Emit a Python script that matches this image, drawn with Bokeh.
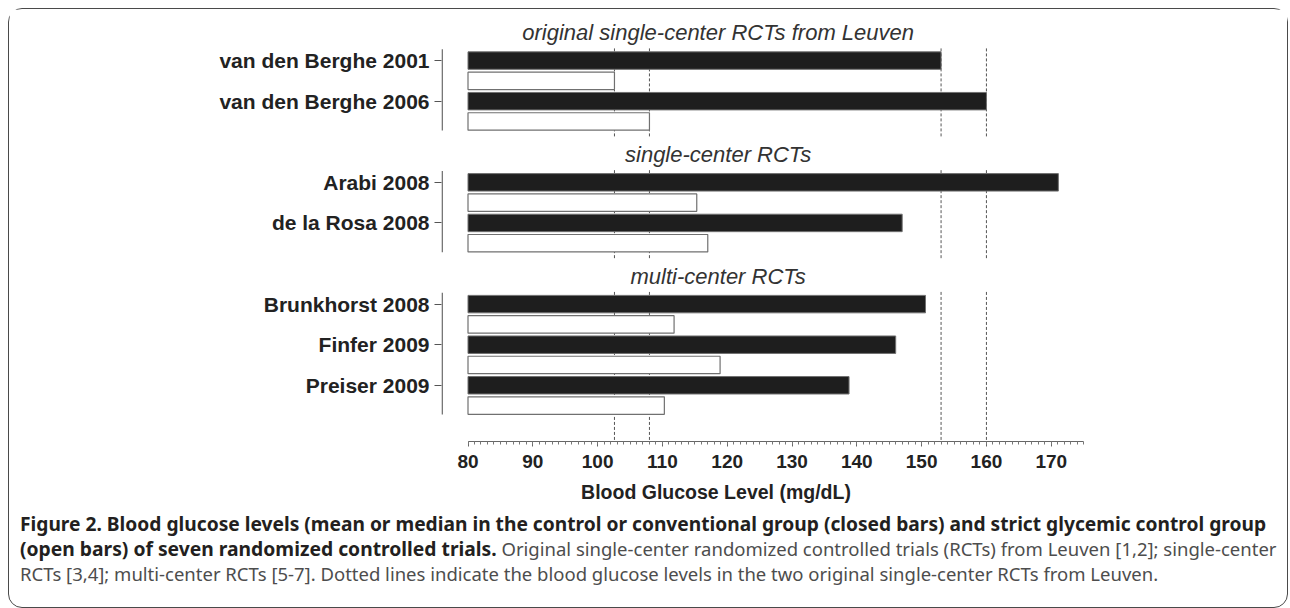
from bokeh.plotting import figure
from bokeh.layouts import column
from bokeh.models import Range1d, FixedTicker, SingleIntervalTicker, ColumnDataSource, Div
from bokeh.core.properties import value
from bokeh.embed import file_html
from bokeh.resources import INLINE

# ---- data ----
trials = ["van den Berghe 2001", "van den Berghe 2006", "Arabi 2008", "de la Rosa 2008",
          "Brunkhorst 2008", "Finfer 2009", "Preiser 2009"]
control = [153.0, 160.0, 171.1, 147.0, 150.6, 146.0, 138.8]      # closed bars
strict = [102.6, 108.0, 115.3, 117.0, 111.8, 118.9, 110.3]       # open bars
group_names = ["original single-center RCTs from Leuven", "single-center RCTs", "multi-center RCTs"]
group_members = [[0, 1], [2, 3], [4, 5, 6]]
leuven = [0, 1]
x_axis_start, x_axis_end, x_tick_step = 80, 175, 10
x_title = "Blood Glucose Level (mg/dL)"
caption_bold_1 = ("Figure 2. Blood glucose levels (mean or median in the control or conventional group "
                  "(closed bars) and strict glycemic control group")
caption_bold_2 = "(open bars) of seven randomized controlled trials."
caption_reg_2 = ("Original single-center randomized controlled trials (RCTs) from Leuven [1,2]; "
                 "single-center")
caption_reg_3 = ("RCTs [3,4]; multi-center RCTs [5-7]. Dotted lines indicate the blood glucose levels "
                 "in the two original single-center RCTs from Leuven.")

# ---- row slots (1 slot = one bar row) ----
slot = []
pos = 0
for g in group_members:
    for i in g:
        slot.append(pos)
        pos += 2
    pos += 2
y_black = slot
y_white = [s + 1 for s in slot]

W = 1278
CHART_FONT = "Liberation Sans"
Y_BOTTOM, Y_TOP = 18.77, -1.975

p = figure(width=W, height=470, output_backend="svg", toolbar_location=None,
           x_range=Range1d(75.91, 176.06), y_range=Range1d(Y_BOTTOM, Y_TOP),
           min_border_left=432, min_border_right=197, min_border_top=11, min_border_bottom=38)
p.outline_line_color = None
p.xgrid.visible = False
p.ygrid.visible = False

# dotted reference lines (Leuven values), drawn per group
ref_vals = [strict[i] for i in leuven] + [control[i] for i in leuven]
dx, dy0, dy1 = [], [], []
for gi, g in enumerate(group_members):
    top = slot[g[0]] - 0.6
    bot = Y_BOTTOM if gi == len(group_members) - 1 else slot[g[-1]] + 1.8
    for v in ref_vals:
        dx.append(v); dy0.append(top); dy1.append(bot)
p.segment(x0=dx, x1=dx, y0=dy0, y1=dy1, line_color="#555555", line_width=1, line_dash="3 2")

# y axis line segments per group
seg_y0 = [slot[g[0]] - 0.56 for g in group_members]
seg_y1 = [slot[g[-1]] + 1.44 for g in group_members]
xa = p.x_range.start + 0.1
p.segment(x0=[xa] * 3, x1=[xa] * 3, y0=seg_y0, y1=seg_y1, line_color="#555555", line_width=1.3)

base = x_axis_start
src_b = ColumnDataSource(dict(y=y_black, right=control))
src_w = ColumnDataSource(dict(y=y_white, right=strict))
p.hbar(y="y", left=base, right="right", height=0.86, source=src_b,
       fill_color="#1e1e1e", line_color="#707070", line_width=1)
p.hbar(y="y", left=base, right="right", height=0.86, source=src_w,
       fill_color="white", line_color="#707070", line_width=1.2)

# group headers
hdr_y = [slot[g[0]] - 1.38 for g in group_members]
p.text(x=[118.6] * 3, y=hdr_y, text=group_names, text_font=value(CHART_FONT),
       text_font_style="italic", text_font_size="22px", text_color="#333333",
       text_align="center", text_baseline="middle")

# x axis
xax = p.xaxis[0]
xax.ticker = SingleIntervalTicker(interval=x_tick_step, num_minor_ticks=10)
xax.bounds = (x_axis_start, x_axis_end)
xax.axis_line_color = "#666666"
xax.major_tick_line_color = "#666666"
xax.minor_tick_line_color = "#777777"
xax.major_tick_out = 5
xax.major_tick_in = 0
xax.minor_tick_out = 3
xax.minor_tick_in = 0
xax.major_label_text_font = CHART_FONT
xax.major_label_text_font_style = "bold"
xax.major_label_text_font_size = "19px"
xax.major_label_text_color = "#222222"
xax.major_label_standoff = 8

# y axis
yax = p.yaxis[0]
yax.ticker = FixedTicker(ticks=y_black)
yax.major_label_overrides = {y: t for y, t in zip(y_black, trials)}
yax.axis_line_color = None
yax.minor_tick_line_color = None
yax.major_tick_line_color = "#555555"
yax.major_tick_out = 7
yax.major_tick_in = 0
yax.major_label_standoff = 5
yax.major_label_text_font = CHART_FONT
yax.major_label_text_font_style = "bold"
yax.major_label_text_font_size = "21px"
yax.major_label_text_color = "#222222"

# ---- axis title + caption (HTML text) ----
title_center = 707
html = (
    f'<div style="width:{2 * title_center}px;text-align:center;font-family:\'{CHART_FONT}\';'
    f'font-weight:bold;font-size:19.5px;line-height:26px;color:#222222;white-space:nowrap;">{x_title}</div>'
    '<div style="margin-top:6px;padding-left:11px;font-family:\'Noto Sans\';font-size:18.5px;'
    'line-height:25px;white-space:nowrap;color:#4d4d4d;">'
    f'<span style="font-weight:bold;font-size:19.2px;color:#231f20;">{caption_bold_1}</span><br>'
    f'<span style="font-weight:bold;font-size:19.3px;color:#231f20;">{caption_bold_2}</span> {caption_reg_2}<br>'
    f'{caption_reg_3}</div>'
)
cap = Div(text=html, width=W, height=128, margin=0)

layout = column(p, cap, spacing=0)
layout.margin = (8, 0, 0, 8)
layout.styles = {"border": "1px solid #4a4a4a", "border-radius": "14px", "background": "white"}

open("out.html", "w").write(file_html(layout, INLINE))
